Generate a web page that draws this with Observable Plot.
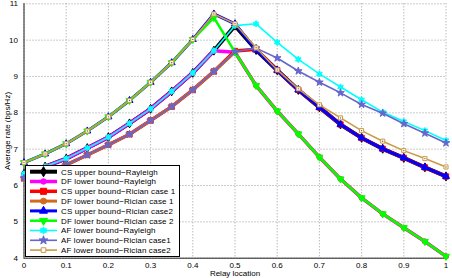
<!DOCTYPE html>
<html><head><meta charset="utf-8">
<script src="https://cdn.jsdelivr.net/npm/d3@7"></script>
<script src="https://cdn.jsdelivr.net/npm/@observablehq/plot@0.6"></script>
<style>body{margin:0;background:#fff;} #chart{width:452px;height:278px;}</style>
</head><body><div id="chart"></div>
<script>
// ---- data ----
const relayLocation = [0,0.05,0.1,0.15,0.2,0.25,0.3,0.35,0.4,0.45,0.5,0.55,0.6,0.65,0.7,0.75,0.8,0.85,0.9,0.95,1];
const seriesNames = [
  "CS upper bound\u2212Rayleigh",
  "DF lower bound\u2212Rayleigh",
  "CS upper bound\u2212Rician case 1",
  "DF lower bound\u2212Rician case 1",
  "CS upper bound\u2212Rician case2",
  "DF lower bound\u2212Rician case 2",
  "AF lower bound\u2212Rayleigh",
  "AF lower bound\u2212Rician case1",
  "AF lower bound\u2212Rician case2"
];
const csRayleigh = [6.32,6.52,6.74,7.03,7.33,7.71,8.11,8.59,9.10,9.71,10.40,9.73,9.17,8.63,8.15,7.68,7.31,7.01,6.76,6.50,6.25];
const dfRayleigh = [6.32,6.52,6.74,7.03,7.33,7.71,8.11,8.59,9.10,9.71,9.67,8.75,8.05,7.42,6.78,6.18,5.66,5.22,4.84,4.46,4.05];
const csRician1  = [6.20,6.37,6.57,6.84,7.12,7.41,7.79,8.17,8.63,9.14,9.70,9.75,9.17,8.63,8.15,7.68,7.31,7.01,6.76,6.50,6.25];
const dfRician1  = [6.20,6.37,6.57,6.84,7.12,7.41,7.79,8.17,8.63,9.14,9.67,8.75,8.05,7.42,6.78,6.18,5.66,5.22,4.84,4.46,4.05];
const csRician2  = [6.63,6.87,7.15,7.50,7.89,8.34,8.84,9.38,10.02,10.72,10.45,9.73,9.17,8.63,8.15,7.68,7.31,7.01,6.76,6.50,6.25];
const dfRician2  = [6.63,6.87,7.15,7.50,7.89,8.34,8.84,9.38,10.02,10.62,9.67,8.75,8.05,7.42,6.78,6.18,5.66,5.22,4.84,4.46,4.05];
const afRayleigh = [6.32,6.52,6.74,7.03,7.33,7.71,8.11,8.59,9.10,9.71,10.40,10.45,9.94,9.47,9.07,8.71,8.36,8.02,7.76,7.51,7.24];
const afRician1  = [6.20,6.37,6.57,6.84,7.12,7.41,7.79,8.17,8.63,9.14,9.68,9.78,9.51,9.15,8.84,8.55,8.23,7.99,7.70,7.44,7.17];
const afRician2  = [6.63,6.87,7.15,7.50,7.89,8.34,8.84,9.38,10.02,10.72,10.45,9.79,9.18,8.66,8.22,7.86,7.51,7.22,6.96,6.74,6.51];
const xTickValues = [0,0.1,0.2,0.3,0.4,0.5,0.6,0.7,0.8,0.9,1];
const yTickValues = [4,5,6,7,8,9,10,11];
const xLabel = "Relay location";
const yLabel = "Average rate (bps/Hz)";

// ---- styles ----
const hexagram = {
  draw(ctx, size) {
    const R = Math.sqrt(size) * 0.75, r = R / Math.sqrt(3);
    for (let i = 0; i < 12; i++) {
      const a = -Math.PI / 2 + i * Math.PI / 6, rr = i % 2 ? r : R;
      const px = rr * Math.cos(a), py = rr * Math.sin(a);
      i ? ctx.lineTo(px, py) : ctx.moveTo(px, py);
    }
    ctx.closePath();
  }
};
const styles = [
  {color:"#000000", lw:4,   symbol:"diamond",  r:2.7, fill:"#000000", stroke:"#000000"},
  {color:"#ff00ff", lw:3.5, symbol:"circle",   r:2.4, fill:"#ff00ff", stroke:"#ff00ff"},
  {color:"#ff0000", lw:3.5, symbol:"square",   r:3.0, fill:"#ff0000", stroke:"#ff0000"},
  {color:"#d2691e", lw:3,   symbol:"circle",   r:2.6, fill:"#d2691e", stroke:"#d2691e"},
  {color:"#0000ff", lw:3,   symbol:"triangle", r:2.6, fill:"#0000ff", stroke:"#0000ff"},
  {color:"#00ff00", lw:2.5, symbol:"triangle", r:2.6, fill:"#00ff00", stroke:"#00ff00", rotate:180},
  {color:"#00ffff", lw:1.6, symbol:hexagram,   r:2.4, fill:"#00ffff", stroke:"#00ffff"},
  {color:"#6666cc", lw:1.6, symbol:"star",     r:2.4, fill:"#6666cc", stroke:"#6666cc"},
  {color:"#cc9944", lw:1.6, symbol:"square",   r:2.3, fill:"#ffffff", stroke:"#cc9944"}
];
const seriesValues = [csRayleigh, dfRayleigh, csRician1, dfRician1, csRician2, dfRician2, afRayleigh, afRician1, afRician2];

const tidy = seriesValues.map((vals, i) => vals.map((v, j) => ({x: relayLocation[j], y: v, s: i})));

const marks = [
  Plot.gridX(xTickValues, {stroke:"#9a9a9a", strokeOpacity:1, strokeDasharray:"1,2"}),
  Plot.gridY(yTickValues, {stroke:"#9a9a9a", strokeOpacity:1, strokeDasharray:"1,2"}),
  Plot.ruleX([0], {stroke:"#222"}),
  Plot.ruleY([4], {stroke:"#222"}),
  Plot.axisX(xTickValues, {tickSize:0, tickPadding:4, tickFormat: d => String(d), label: xLabel, labelAnchor:"center", labelOffset:18, labelArrow:"none"}),
  Plot.axisY(yTickValues, {tickSize:0, tickPadding:6, tickFormat: d => String(d), label: yLabel, labelAnchor:"center", labelOffset:20, labelArrow:"none"})
];
tidy.forEach((rows, i) => {
  const st = styles[i];
  marks.push(Plot.line(rows, {x:"x", y:"y", stroke: st.color, strokeWidth: st.lw}));
  marks.push(Plot.dot(rows, {x:"x", y:"y", symbol: st.symbol, r: st.r, fill: st.fill, stroke: st.stroke, strokeWidth: 1, rotate: st.rotate || 0}));
  if (i === 8) marks.push(Plot.dot(rows, {x:"x", y:"y", r:0.7, fill:"#7a5a2a"}));
});

const svg = Plot.plot({
  width: 452, height: 278,
  marginLeft: 23.5, marginRight: 6.5, marginTop: 3.3, marginBottom: 20.3,
  x: {domain: [0, 1]},
  y: {domain: [4, 11]},
  style: {fontFamily: "'Liberation Sans', Arial, sans-serif", fontSize: "8px", background: "#fff", color: "#000"},
  marks
});
document.getElementById("chart").appendChild(svg);

// ---- legend (inside the plot area, bottom-left) ----
const sym = s => typeof s === "string" ? ({diamond: d3.symbolDiamond, circle: d3.symbolCircle, square: d3.symbolSquare, triangle: d3.symbolTriangle, star: d3.symbolStar})[s] : s;
const lg = d3.select(svg).append("g").attr("transform", "translate(25.5,165.5)").attr("text-anchor", "start");
lg.append("rect").attr("width", 154).attr("height", 91).attr("fill", "#fff").attr("stroke", "#000").attr("stroke-width", 1);
seriesNames.forEach((name, i) => {
  const st = styles[i];
  const yy = 6.2 + i * 9.8;
  const row = lg.append("g").attr("transform", `translate(0,${yy})`);
  row.append("line").attr("x1", 4.5).attr("x2", 31.5).attr("y1", 0).attr("y2", 0).attr("stroke", st.color).attr("stroke-width", st.lw);
  row.append("path").attr("d", d3.symbol(sym(st.symbol), Math.PI * st.r * st.r * 1.3)()).attr("transform", `translate(18,0) rotate(${st.rotate || 0})`).attr("fill", st.fill).attr("stroke", st.stroke);
  row.append("text").attr("x", 35.5).attr("y", 0).attr("dy", "0.35em").attr("text-anchor", "start").attr("font-size", 8).attr("letter-spacing", 0.12).attr("fill", "#000").text(name);
});
</script>
</body></html>
